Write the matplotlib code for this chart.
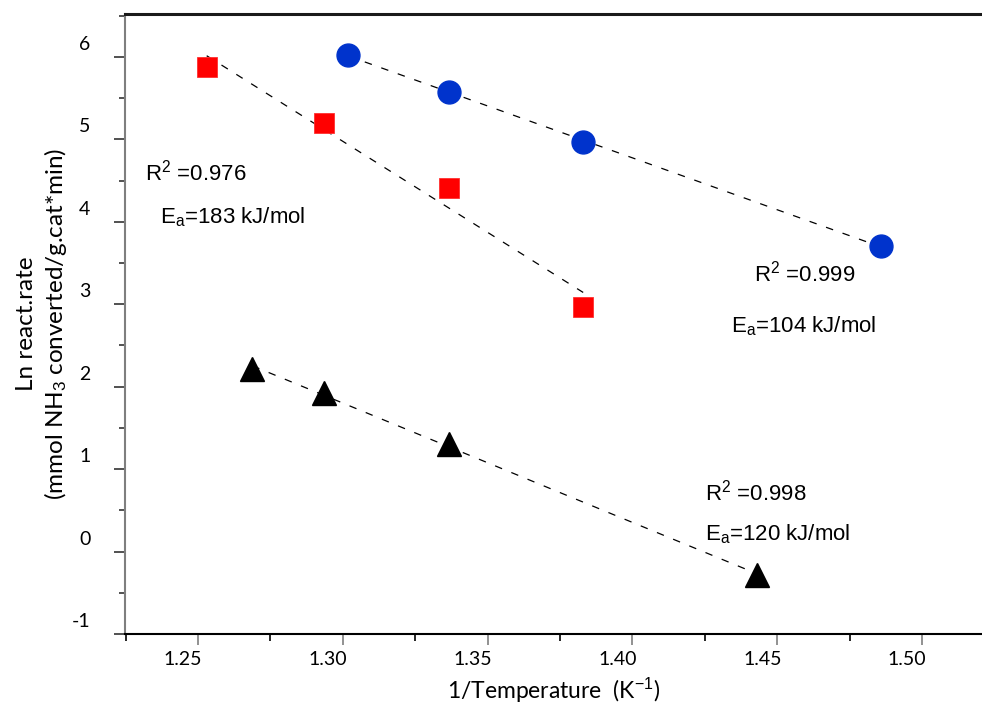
import numpy as np
import matplotlib
matplotlib.use("Agg")
import matplotlib.pyplot as plt
import matplotlib.transforms as mtransforms
from matplotlib.ticker import MultipleLocator

plt.rcParams['mathtext.fontset'] = 'custom'
plt.rcParams['mathtext.rm'] = 'Liberation Sans'
plt.rcParams['mathtext.it'] = 'Liberation Sans:italic'

# Data (1/T in 1000/K, ln rate)
x_blue = [1.3019, 1.3367, 1.3830, 1.4857]
y_blue = [6.024, 5.572, 4.965, 3.707]
x_red = [1.2530, 1.2935, 1.3367, 1.3830]
y_red = [5.875, 5.196, 4.407, 2.963]
x_black = [1.2688, 1.2935, 1.3367, 1.4429]
y_black = [2.209, 1.924, 1.301, -0.284]

x_ticks = [1.25, 1.30, 1.35, 1.40, 1.45, 1.50]
x_ticklabels = ["1.25", "1.30", "1.35", "1.40", "1.45", "1.50"]
y_ticks = [-1, 0, 1, 2, 3, 4, 5, 6]
y_ticklabels = ["-1", "0", "1", "2", "3", "4", "5", "6"]

annotations = [
    (1.2317, 4.60, r"R$^2$ =0.976"),
    (1.2369, 4.05, r"E$_\mathrm{a}$=183 kJ/mol"),
    (1.4420, 3.37, r"R$^2$ =0.999"),
    (1.4340, 2.73, r"E$_\mathrm{a}$=104 kJ/mol"),
    (1.4250, 0.72, r"R$^2$ =0.998"),
    (1.4250, 0.21, r"E$_\mathrm{a}$=120 kJ/mol"),
]

fig = plt.figure(figsize=(9.82, 7.11), dpi=100)
ax = fig.add_axes([125/982, 1-634/711, (982-125)/982, (634-14)/711])

def fit_line(xs, ys):
    xs = np.asarray(xs); ys = np.asarray(ys)
    k, b = np.polyfit(xs, ys, 1)
    xx = np.array([xs.min(), xs.max()])
    return xx, k*xx + b

for xs, ys in [(x_blue, y_blue), (x_red, y_red), (x_black, y_black)]:
    xx, yy = fit_line(xs, ys)
    ax.plot(xx, yy, color='black', lw=0.9, dashes=(6, 8), zorder=2)

ax.plot(x_blue, y_blue, 'o', color='#0033CC', ms=16.5, mec='#0033CC', zorder=3)
ax.plot(x_red, y_red, 's', color='#FF0000', ms=13.7, mec='#FF3030', mew=0.6, zorder=3)
ax.plot(x_black, y_black, '^', color='black', ms=17.5, zorder=3)

ax.set_xlim(1.2248, 1.5207)
ax.set_ylim(-1, 6.52)

ax.set_xticks(x_ticks)
ax.set_xticklabels(x_ticklabels)
ax.set_yticks(y_ticks)
ax.set_yticklabels(y_ticklabels)
ax.xaxis.set_minor_locator(MultipleLocator(0.025))
ax.yaxis.set_minor_locator(MultipleLocator(0.5))

ax.spines['right'].set_visible(False)
ax.spines['top'].set_linewidth(2.2)
ax.spines['top'].set_color('#1a1a1a')
ax.spines['bottom'].set_linewidth(1.5)
ax.spines['left'].set_linewidth(1.5)
ax.spines['left'].set_color('#7f7f7f')

ax.tick_params(axis='x', which='major', direction='out', length=8, width=1.2, color='#7f7f7f',
               labelsize=14, pad=4)
ax.tick_params(axis='x', which='minor', direction='out', length=5, width=1.2, color='black')
ax.tick_params(axis='y', which='major', direction='out', length=8, width=1.2, color='#333333',
               labelsize=14, pad=17)
ax.tick_params(axis='y', which='minor', direction='out', length=4, width=1.2, color='#333333')

for lab in ax.get_xticklabels():
    lab.set_fontfamily('Lato')
    lab.set_transform(lab.get_transform() + mtransforms.ScaledTranslation(-0.15, 0, fig.dpi_scale_trans))
for lab in ax.get_yticklabels():
    lab.set_fontfamily('Lato')
    lab.set_transform(lab.get_transform() + mtransforms.ScaledTranslation(0, 0.14, fig.dpi_scale_trans))

ax.set_xlabel(r"1/Temperature  (K$^{-1}$)", fontfamily='Lato', fontsize=16.5, labelpad=6)
ax.set_ylabel("Ln react.rate\n" + r"(mmol NH$_3$ converted/g.cat*min)", fontfamily='Lato',
              fontsize=17.5, labelpad=2, linespacing=1.25)

for x, y, t in annotations:
    ax.text(x, y, t, fontfamily='Liberation Sans', fontsize=16, va='center', ha='left')

fig.savefig("out.png", dpi=100)
